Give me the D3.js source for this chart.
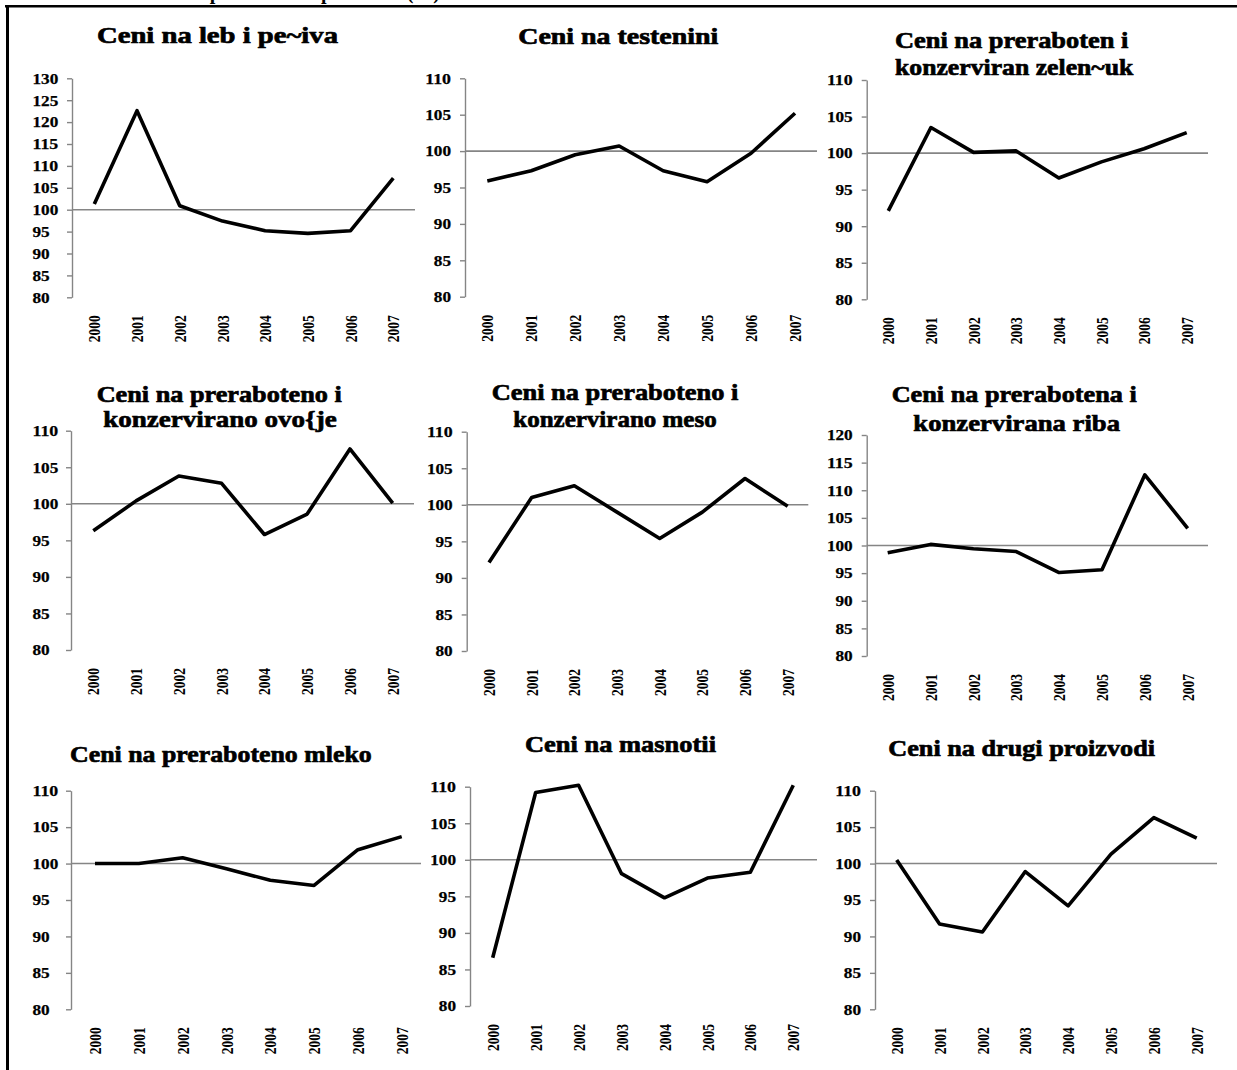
<!DOCTYPE html>
<html><head><meta charset="utf-8">
<script src="https://cdn.jsdelivr.net/npm/d3@7"></script>
<style>body{margin:0;background:#fff} svg{display:block}</style>
</head><body><svg id="c" width="1237" height="1070"></svg>
<script>
// ---------- data ----------
const years = ["2000","2001","2002","2003","2004","2005","2006","2007"];
const ticks80to110 = [80,85,90,95,100,105,110];
const ticks80to120 = [80,85,90,95,100,105,110,115,120];
const ticks80to130 = [80,85,90,95,100,105,110,115,120,125,130];
const baselineValue = 100;
const headerText = "Indeksi na ceni na prehranbeni proizvodi (%)";

const titleLeb      = ["Ceni na leb i pe~iva"];
const titleTestenini= ["Ceni na testenini"];
const titleZelencuk = ["Ceni na preraboten i", "konzerviran zelen~uk"];
const titleOvosje   = ["Ceni na preraboteno i", "konzervirano ovo{je"];
const titleMeso     = ["Ceni na preraboteno i", "konzervirano meso"];
const titleRiba     = ["Ceni na prerabotena i", "konzervirana riba"];
const titleMleko    = ["Ceni na preraboteno mleko"];
const titleMasnotii = ["Ceni na masnotii"];
const titleDrugi    = ["Ceni na drugi proizvodi"];

const valuesLeb      = [101.3,122.6,100.9, 97.4, 95.2, 94.6, 95.2,107.2];
const valuesTestenini= [ 95.9, 97.3, 99.5,100.7, 97.3, 95.8, 99.7,105.2];
const valuesZelencuk = [ 92.1,103.5,100.1,100.3, 96.6, 98.8,100.6,102.8];
const valuesOvosje   = [ 96.3,100.4,103.8,102.8, 95.8, 98.6,107.5,100.1];
const valuesMeso     = [ 92.1,101.0,102.6, 99.0, 95.4, 99.0,103.6, 99.8];
const valuesRiba     = [ 98.7,100.2, 99.4, 98.9, 95.1, 95.6,112.8,103.1];
const valuesMleko    = [100.0,100.0,100.8, 99.3, 97.7, 97.0,101.9,103.7];
const valuesMasnotii = [ 86.6,109.2,110.2, 98.1, 94.8, 97.5, 98.3,110.2];
const valuesDrugi    = [100.5, 91.7, 90.6, 98.9, 94.2,101.3,106.3,103.5];

// ---------- layout (positions only) ----------
const panels = [
  {title:titleLeb, values:valuesLeb, ticks:ticks80to130, ax:72, p0:94.3, p1:393.3, lineEnd:415, top:78.3, bottom:297.3, align:"start",
   tl:[[97,338,43]]},
  {title:titleTestenini, values:valuesTestenini, ticks:ticks80to110, ax:465, p0:487.3, p1:795, lineEnd:817, top:78.3, bottom:296.7, align:"end",
   tl:[[518.3,718.3,44]]},
  {title:titleZelencuk, values:valuesZelencuk, ticks:ticks80to110, ax:866.7, p0:888.3, p1:1186.7, lineEnd:1208, top:80, bottom:299.3, align:"end",
   tl:[[895,1128.3,48.3],[895,1133.3,75]]},
  {title:titleOvosje, values:valuesOvosje, ticks:ticks80to110, ax:71, p0:93.3, p1:392.7, lineEnd:414, top:430.7, bottom:650, align:"start",
   tl:[[96.7,341.7,401.7],[103.3,336.7,426.7]]},
  {title:titleMeso, values:valuesMeso, ticks:ticks80to110, ax:466.7, p0:489, p1:787.7, lineEnd:808.3, top:431.7, bottom:651, align:"end",
   tl:[[491.7,738.3,400],[513.3,716.7,426.7]]},
  {title:titleRiba, values:valuesRiba, ticks:ticks80to120, ax:866.7, p0:887.7, p1:1187.7, lineEnd:1208, top:435, bottom:656, align:"end",
   tl:[[891.7,1136.7,401.7],[913.3,1120,431]]},
  {title:titleMleko, values:valuesMleko, ticks:ticks80to110, ax:71, p0:95, p1:401.7, lineEnd:421, top:790.7, bottom:1009.3, align:"start",
   tl:[[70,371.7,761.7]]},
  {title:titleMasnotii, values:valuesMasnotii, ticks:ticks80to110, ax:470, p0:492.7, p1:793.3, lineEnd:817, top:786.7, bottom:1006, align:"end",
   tl:[[525,716,752.3]]},
  {title:titleDrugi, values:valuesDrugi, ticks:ticks80to110, ax:875, p0:896.7, p1:1196.7, lineEnd:1217, top:790.7, bottom:1009.3, align:"end",
   tl:[[888.3,1155,756]]}
];

const svg = d3.select("#c");
const serif = "'Liberation Serif','Times New Roman',serif";
const gray = "#858585";

// frame + header cut off by the top of the page (as in the source)
svg.append("text").attr("x",50).attr("y",-1).attr("font-family",serif).attr("font-weight","bold")
  .attr("font-size",20).attr("textLength",390).attr("lengthAdjust","spacingAndGlyphs").text(headerText);
svg.append("line").attr("x1",5).attr("x2",1237).attr("y1",6.2).attr("y2",6.2).attr("stroke","#000").attr("stroke-width",2.6);
svg.append("line").attr("x1",7.5).attr("x2",7.5).attr("y1",5).attr("y2",1070).attr("stroke","#000").attr("stroke-width",3);

panels.forEach(p => {
  const y = d3.scaleLinear().domain([p.ticks[0], p.ticks[p.ticks.length-1]]).range([p.bottom, p.top]);
  const x = d3.scalePoint().domain(years).range([p.p0, p.p1]);
  const g = svg.append("g");

  // y axis
  const ya = g.append("g").attr("transform",`translate(${p.ax},0)`)
    .call(d3.axisLeft(y).tickValues(p.ticks).tickSize(5).tickSizeOuter(0).tickPadding(9));
  ya.selectAll("path,line").attr("stroke",gray).attr("stroke-width",1.4);
  ya.selectAll("text").attr("font-family",serif).attr("font-weight","bold").attr("font-size",15)
    .attr("fill","#000").attr("stroke","#000").attr("stroke-width",0.25)
    .attr("textLength",d => String(d).length*8.6).attr("lengthAdjust","spacingAndGlyphs");
  if (p.align === "start") {
    ya.selectAll("text").attr("text-anchor","start").attr("x", 32.5 - p.ax);
  } else {
    ya.selectAll("text").attr("x",-14);
  }

  // x axis labels
  const xa = g.append("g").attr("transform",`translate(0,${p.bottom})`)
    .call(d3.axisBottom(x).tickSize(0));
  xa.select(".domain").remove();
  xa.selectAll("text").attr("font-family",serif).attr("font-weight","bold").attr("font-size",16)
    .attr("fill","#000")
    .attr("transform","rotate(-90)").attr("text-anchor","end")
    .attr("x",-18).attr("y",0).attr("dy","0.35em")
    .attr("textLength",27).attr("lengthAdjust","spacingAndGlyphs");

  // 100 reference line
  g.append("line").attr("x1",p.ax).attr("x2",p.lineEnd)
    .attr("y1",y(baselineValue)).attr("y2",y(baselineValue))
    .attr("stroke",gray).attr("stroke-width",1.6);

  // series line
  const line = d3.line().x((d,i)=>x(years[i])).y(d=>y(d));
  g.append("path").datum(p.values).attr("d",line)
    .attr("fill","none").attr("stroke","#000").attr("stroke-width",3.6)
    .attr("stroke-linejoin","round").attr("stroke-linecap","butt");

  // title
  p.title.forEach((t,i) => {
    const [x0,x1,by] = p.tl[i];
    g.append("text").attr("x",x0).attr("y",by)
      .attr("font-family",serif).attr("font-weight","bold").attr("font-size",24)
      .attr("stroke","#000").attr("stroke-width",0.7)
      .attr("textLength",x1-x0).attr("lengthAdjust","spacingAndGlyphs")
      .text(t);
  });
});
</script>
</body></html>
